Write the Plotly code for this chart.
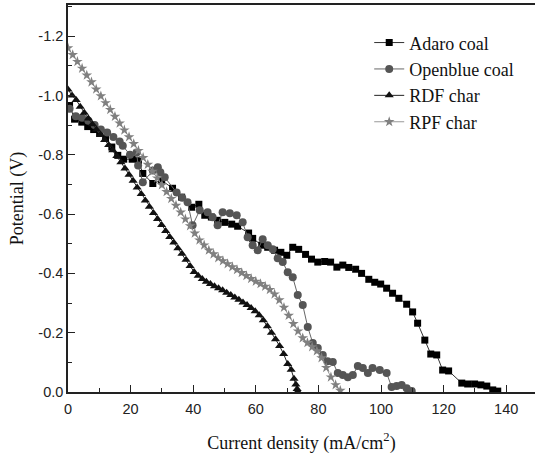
import plotly.graph_objects as go

# ---------------- data ----------------
adaro_x = [0.5, 2.1, 4.4, 6.3, 8.2, 10.1, 12.0, 14.0, 15.9, 17.8, 20.5, 22.5, 23.9, 27.1, 29.9,
           33.4, 36.3, 39.5, 41.8, 43.7, 45.8, 47.8, 50.1, 52.3, 54.2, 57.7, 59.0, 61.9, 63.8,
           66.0, 68.0, 69.9, 71.8, 73.7, 75.9, 77.8, 79.8, 82.0, 83.9, 85.9, 87.8, 89.7, 91.9,
           93.8, 96.1, 98.0, 99.9, 101.8, 103.7, 105.7, 108.2, 110.1, 111.7, 114.0, 115.9,
           117.8, 119.7, 121.6, 125.8, 127.7, 129.9, 131.9, 133.8, 135.7, 137.3]
adaro_v = [-0.966, -0.920, -0.910, -0.895, -0.885, -0.872, -0.855, -0.826, -0.798, -0.785,
           -0.785, -0.780, -0.737, -0.703, -0.714, -0.687, -0.657, -0.623, -0.633, -0.596,
           -0.590, -0.579, -0.572, -0.566, -0.559, -0.536, -0.518, -0.495, -0.488, -0.478,
           -0.471, -0.461, -0.488, -0.481, -0.464, -0.448, -0.438, -0.440, -0.438, -0.421,
           -0.428, -0.420, -0.414, -0.400, -0.380, -0.370, -0.364, -0.350, -0.333, -0.316,
           -0.296, -0.270, -0.232, -0.175, -0.128, -0.125, -0.074, -0.071, -0.030, -0.027,
           -0.027, -0.024, -0.020, -0.007, -0.003]

openblue_x = [0.5, 2.5, 4.5, 6.5, 8.5, 10.5, 12.5, 14.5, 16.5, 17.5, 19.8, 21.9, 22.4, 23.9,
              27.1, 28.7, 29.5, 30.9, 34.7, 36.5, 38.2, 39.8, 42.1, 44.6, 46.2, 47.8, 49.4,
              51.7, 53.9, 55.8, 57.4, 59.0, 60.6, 62.2, 63.8, 65.4, 67.0, 68.6, 70.2, 71.8,
              73.4, 75.0, 76.6, 78.2, 79.8, 81.4, 82.9, 84.6, 86.2, 87.8, 89.4, 91.0, 92.6,
              94.2, 95.8, 97.3, 99.6, 101.8, 103.4, 105.0, 106.6, 108.2, 109.8]
openblue_v = [-0.955, -0.930, -0.925, -0.915, -0.900, -0.885, -0.875, -0.860, -0.845, -0.830,
              -0.800, -0.808, -0.764, -0.707, -0.747, -0.758, -0.741, -0.724, -0.673, -0.655,
              -0.640, -0.562, -0.613, -0.606, -0.589, -0.562, -0.606, -0.603, -0.596, -0.572,
              -0.522, -0.495, -0.478, -0.515, -0.495, -0.481, -0.451, -0.438, -0.404, -0.387,
              -0.327, -0.293, -0.219, -0.165, -0.148, -0.125, -0.104, -0.101, -0.064, -0.057,
              -0.050, -0.057, -0.088, -0.081, -0.064, -0.081, -0.074, -0.064, -0.017, -0.020,
              -0.024, -0.013, -0.003]

rdf_x = [0.0, 1.3, 2.6, 3.9, 5.2, 6.5, 7.8, 9.1, 10.4, 11.7, 13.0, 14.3, 15.6, 16.9, 18.2,
         19.5, 20.8, 22.1, 23.4, 24.7, 26.0, 27.3, 28.6, 29.9, 31.2, 32.5, 33.8, 35.1, 36.4,
         37.7, 39.0, 40.3, 41.6, 42.9, 44.2, 45.5, 46.8, 48.1, 49.4, 50.7, 52.0, 53.3, 54.6,
         55.9, 57.2, 58.5, 59.8, 61.1, 62.4, 63.7, 65.0, 66.3, 67.6, 68.9, 70.2, 71.3, 72.2,
         72.8, 73.2, 73.4]
rdf_v = [-1.020, -1.000, -0.985, -0.962, -0.942, -0.922, -0.903, -0.885, -0.868, -0.850,
         -0.833, -0.815, -0.796, -0.775, -0.754, -0.733, -0.712, -0.690, -0.668, -0.646,
         -0.625, -0.604, -0.583, -0.563, -0.543, -0.523, -0.504, -0.485, -0.466, -0.446,
         -0.425, -0.405, -0.392, -0.381, -0.372, -0.364, -0.357, -0.350, -0.343, -0.335,
         -0.327, -0.319, -0.311, -0.302, -0.293, -0.283, -0.272, -0.259, -0.242, -0.222,
         -0.200, -0.178, -0.155, -0.128, -0.094, -0.075, -0.045, -0.025, -0.010, -0.002]

rpf_x = [0.0, 1.5, 3.0, 4.5, 6.0, 7.5, 9.0, 10.5, 12.0, 13.5, 15.0, 16.5, 18.0, 19.5, 21.0,
         22.5, 24.0, 25.5, 27.0, 28.5, 30.0, 31.5, 33.0, 34.5, 36.0, 37.5, 39.0, 40.5, 42.0,
         43.5, 45.0, 46.5, 48.0, 49.5, 51.0, 52.5, 54.0, 55.5, 57.0, 58.5, 60.0, 61.5, 63.0,
         64.5, 66.0, 67.5, 69.0, 70.5, 72.0, 73.5, 75.0, 76.5, 78.0, 79.5, 81.0, 82.5, 84.0,
         85.5, 87.0]
rpf_v = [-1.160, -1.137, -1.114, -1.091, -1.068, -1.045, -1.021, -0.998, -0.975, -0.952,
         -0.929, -0.906, -0.883, -0.860, -0.837, -0.814, -0.790, -0.767, -0.744, -0.721,
         -0.698, -0.675, -0.652, -0.629, -0.606, -0.583, -0.560, -0.535, -0.512, -0.495,
         -0.478, -0.465, -0.452, -0.442, -0.432, -0.422, -0.412, -0.402, -0.392, -0.382,
         -0.373, -0.365, -0.356, -0.345, -0.330, -0.310, -0.285, -0.258, -0.230, -0.205,
         -0.182, -0.166, -0.152, -0.138, -0.115, -0.082, -0.050, -0.024, -0.005]

y_tickvals = [0.0, -0.2, -0.4, -0.6, -0.8, -1.0, -1.2]
y_ticktext = ["0.0", "-0.2", "-0.4", "-0.6", "-0.8", "-1.0", "-1.2"]
x_tickvals = [0, 20, 40, 60, 80, 100, 120, 140]

SERIF = "'Liberation Serif', 'Times New Roman', Times, serif"
SANS = "'Liberation Sans', Arial, sans-serif"

# ---------------- figure ----------------
fig = go.Figure()

def add(name, xs, ys, symbol, mcolor, lcolor, size):
    fig.add_trace(go.Scatter(
        x=xs, y=ys, name=name, mode="lines+markers",
        line=dict(color=lcolor, width=1),
        marker=dict(symbol=symbol, color=mcolor, size=size, line=dict(width=0)),
    ))

add("Adaro coal", adaro_x, adaro_v, "square", "#000000", "#333333", 7)
add("Openblue coal", openblue_x, openblue_v, "circle", "#555555", "#666666", 8)
add("RDF char", rdf_x, rdf_v, "triangle-up", "#111111", "#222222", 8)
add("RPF char", rpf_x, rpf_v, "star", "#808080", "#999999", 8)

axis_color = "#222222"
fig.update_layout(
    width=535, height=460,
    margin=dict(l=68, r=0, t=5, b=68),
    plot_bgcolor="white", paper_bgcolor="white",
    font=dict(family=SERIF),
    showlegend=True,
    legend=dict(
        x=0.645, y=0.95, xanchor="left", yanchor="top",
        font=dict(family=SERIF, size=18, color="#111111"),
        bgcolor="rgba(0,0,0,0)", tracegroupgap=0, itemwidth=30,
    ),
    xaxis=dict(
        range=[0, 149.2], tickvals=x_tickvals,
        ticks="inside", ticklen=7, tickwidth=1.2, tickcolor=axis_color,
        ticklabelstandoff=3,
        minor=dict(ticks="inside", ticklen=4, dtick=10, tick0=0, tickcolor=axis_color, tickwidth=1.2),
        showline=True, linecolor=axis_color, linewidth=1.5, mirror=True,
        showgrid=False, zeroline=False,
        tickfont=dict(family=SANS, size=14.5, color="#222222"),
        title=dict(text="Current density (mA/cm<sup>2</sup>)", standoff=20,
                   font=dict(family=SERIF, size=18, color="#111111")),
    ),
    yaxis=dict(
        range=[0, -1.305], tickvals=y_tickvals, ticktext=y_ticktext,
        ticks="inside", ticklen=7, tickwidth=1.2, tickcolor=axis_color,
        minor=dict(ticks="inside", ticklen=4, dtick=0.1, tick0=0, tickcolor=axis_color, tickwidth=1.2),
        showline=True, linecolor=axis_color, linewidth=1.5, mirror=False,
        showgrid=False, zeroline=False,
        tickfont=dict(family=SANS, size=14.5, color="#222222"),
        title=dict(text="Potential (V)", standoff=10,
                   font=dict(family=SERIF, size=18, color="#111111")),
    ),
)

fig.write_html("out.html")
